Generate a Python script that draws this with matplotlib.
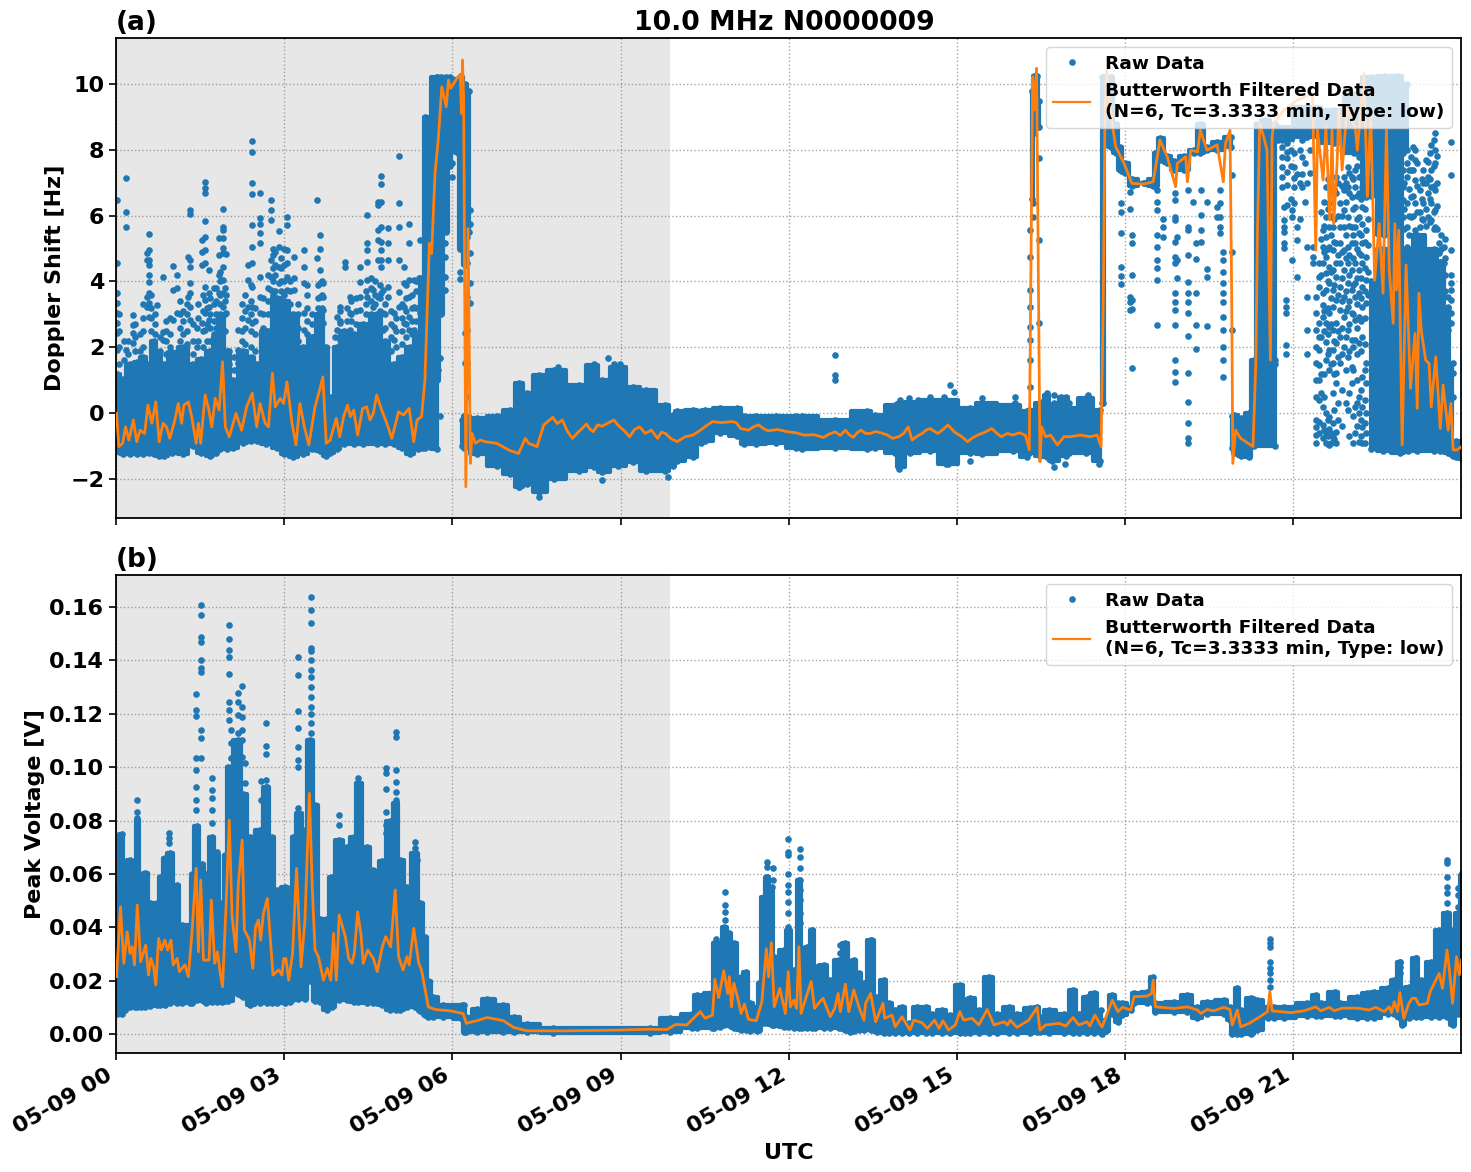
from datetime import datetime

import numpy as np
import matplotlib
matplotlib.use('Agg')
import matplotlib.pyplot as plt
import matplotlib.dates as mdates


start_day = datetime(2024, 5, 9)
blue = '#1f77b4'
orange = '#ff7f0e'
night_end = 9.886  # hours UTC

# Doppler shift: dense part of the raw cloud, low and high edge per station (Hz)
band_hours_a = [0.01, 0.12, 0.25, 0.38, 0.49, 0.58, 0.67, 0.76, 0.85, 1.0, 1.2, 1.38, 1.52, 1.68, 1.78, 1.86,
                1.98, 2.09, 2.27, 2.4, 2.51, 2.68, 2.87, 3.0, 3.16, 3.34, 3.5, 3.64, 3.74, 3.82, 3.94, 4.06,
                4.25, 4.41, 4.65, 4.8, 4.95, 5.1, 5.25, 5.38, 5.45, 5.52, 5.72, 5.74, 6.17, 6.2, 6.44, 6.79,
                7.03, 7.19, 7.33, 7.54, 7.82, 8.25, 8.53, 8.67, 8.95, 9.23, 9.45, 9.8, 9.94, 10.01, 10.29,
                10.43, 10.5, 10.78, 11.07, 11.21, 11.42, 11.77, 12.12, 12.23, 12.83, 13.39, 13.53, 13.89,
                13.96, 14.17, 14.52, 14.8, 15.23, 15.44, 16.0, 16.25, 16.29, 16.48, 16.51, 16.6, 16.7, 16.95,
                17.0, 17.3, 17.55, 17.6, 19.91, 19.95, 20.06, 20.2, 20.3, 20.68, 20.7, 22.36, 22.38, 22.6,
                22.9, 23.05, 23.2, 23.5, 23.62, 23.75, 23.81, 23.85, 23.9, 24.0]
band_low_a = [-1.15, -1.25, -1.25, -1.25, -1.25, -1.2, -1.25, -1.3, -1.3, -1.2, -1.25, -1.0, -1.2, -1.3, -1.2, -1.1,
              -1.1, -1.05, -0.9, -0.85, -0.85, -0.95, -1.05, -1.25, -1.35, -1.25, -1.1, -1.15, -1.3, -1.2, -1.1, -0.95,
              -0.95, -0.95, -0.95, -0.95, -0.95, -1.05, -1.25, -1.1, -1.05, -1.05, -1.1, np.nan, -1.0, -1.05, -1.25, -1.6,
              -1.85, -2.25, -2.15, -2.4, -2.0, -1.75, -1.65, -1.8, -1.6, -1.5, -1.75, -1.75, -1.6, -1.45, -1.35,
              -0.9, -0.85, -0.6, -0.7, -0.95, -0.95, -0.9, -1.05, -1.1, -1.05, -1.1, -1.05, -1.2,
              -1.65, -1.2, -1.15, -1.55, -1.2, -1.25, -1.15, -1.35, -1.2, -1.3, -1.2, -1.35, -1.45, -1.3,
              -1.2, -1.2, -1.45, np.nan, -1.05, -1.2, -1.3, -1.35, -1.0, -1.0, np.nan, np.nan, -1.1, -1.15,
              -1.2, -1.15, -1.15, -1.15, -1.15, -1.2, -1.25, -1.3, -1.35, -1.4]
band_high_a = [1.2, 1.05, 1.5, 1.55, 1.7, 1.5, 2.2, 1.75, 1.5, 1.85, 2.0, 1.5, 1.65, 1.9, 2.3, 3.0,
               1.9, 1.0, 1.9, 1.7, 1.5, 2.5, 3.5, 3.4, 3.0, 2.0, 2.3, 3.0, 2.0, 0.5, 2.0, 2.5,
               2.4, 2.7, 3.0, 2.2, 1.5, 1.7, 2.0, 2.4, 4.0, 9.0, 10.2, np.nan, -0.2, -0.1, -0.15, -0.1,
               0.1, 0.9, 0.6, 1.15, 1.3, 0.85, 1.45, 1.0, 1.4, 0.8, 0.7, 0.25, -0.05, 0.05, 0.1,
               0.05, 0.1, 0.15, 0.15, -0.1, -0.1, -0.1, -0.1, -0.1, -0.2, 0.05, -0.05, 0.25,
               0.3, 0.35, 0.4, 0.4, 0.15, 0.3, 0.25, 0.05, 0.1, 0.3, 0.35, 0.55, 0.25, 0.5,
               0.15, 0.45, 0.1, np.nan, -0.1, -0.05, -0.15, 0.0, 1.6, 1.5, np.nan, np.nan, 4.0, 5.0,
               5.0, 5.0, 5.4, 5.0, 4.6, 3.2, 1.5, -0.9, -0.85, -0.85]

# Doppler shift: raw cloud while the signal sits near 8-10 Hz
upper_hours_a = [5.72, 5.8, 5.88, 5.95, 6.0, 6.1, 6.15, 6.22, 6.3, 6.32, 16.33, 16.37, 16.42, 16.46, 16.47, 17.58,
                 17.61, 17.64, 17.75, 17.83, 17.9, 18.0, 18.13, 18.33, 18.5, 18.54, 18.62, 18.75, 18.87, 19.05,
                 19.22, 19.34, 19.46, 19.64, 19.88, 19.89, 20.33, 20.5, 20.68, 20.69, 20.72, 21.25, 21.72, 22.08,
                 22.38, 22.62, 22.85, 23.03, 23.04]
upper_low_a = [1.0, 3.0, 5.5, 7.5, 8.3, 7.9, 5.0, 4.5, 5.5, np.nan, 6.5, 8.5, 8.7, 8.7, np.nan, 0.3,
               0.3, 8.3, 8.1, 7.9, 7.4, 7.3, 6.9, 7.0, 6.9, 6.9, 7.7, 7.6, 7.4, 7.4,
               7.9, 7.9, 8.0, 8.0, 8.1, np.nan, 1.6, 1.6, 1.6, np.nan, 8.3, 8.4, 8.2, 7.9,
               6.6, 5.4, 4.9, 8.0, np.nan]
upper_high_a = [10.2, 10.2, 10.2, 10.2, 10.15, 10.15, 10.2, 10.0, 9.8, np.nan, 9.8, 10.25, 10.25, 9.5, np.nan, 10.2,
                10.2, 10.2, 10.2, 8.8, 8.1, 7.6, 7.1, 7.0, 7.1, 7.9, 8.35, 7.8, 7.65, 7.8,
                8.0, 8.8, 8.1, 8.25, 8.4, np.nan, 8.8, 8.9, 8.8, np.nan, 8.7, 9.3, 9.2, 9.7,
                10.2, 10.25, 10.25, 10.0, np.nan]

# Doppler shift: scattered raw points above and between the dense parts
spot_hours_a = [0.01, 0.18, 0.3, 0.55, 0.59, 0.73, 0.84, 1.02, 1.08, 1.29, 1.32, 1.53, 1.59, 1.65, 1.83, 1.9, 1.97,
                2.18, 2.36, 2.43, 2.56, 2.77, 2.9, 3.05, 3.17, 3.36, 3.58, 3.64, 3.7, 3.94, 4.0, 4.09, 4.18, 4.35,
                4.47, 4.59, 4.68, 4.72, 4.77, 4.86, 4.95, 5.04, 5.13, 5.22, 5.31, 5.43, 5.75, 5.78, 5.87, 5.99,
                6.14, 6.22, 6.26, 6.31, 12.83]
spot_values_a = [[6.49, 4.55, 3.64, 3.34, 3.03, 2.73, 2.42, 1.91], [7.13, 6.12, 5.66, 1.91], [2.98, 2.67, 2.42, 2.12],
                 [4.85, 4.65, 3.54, 3.23], [5.44, 4.95, 4.65, 4.5, 4.19, 3.99, 3.64, 3.33, 2.93], [3.28],
                 [4.14, 2.47, 2.22], [4.47, 3.74, 2.83], [4.19, 3.79, 3.03], [4.75, 3.54],
                 [6.17, 6.05, 4.65, 4.45, 3.94, 3.64, 3.23, 2.83], [5.26, 4.9, 4.5, 2.73],
                 [7.01, 6.85, 6.68, 5.84, 5.36, 4.95, 4.55, 3.84, 3.43, 3.03, 2.52], [4.35, 3.64, 3.23, 2.83],
                 [5.31, 4.8, 4.19, 3.64], [6.19, 5.66, 5.56, 5.31, 5.01, 4.85, 4.45, 4.04, 3.64, 3.23], [4.82, 3.59, 3.03],
                 [2.52, 1.91, 1.51], [4.5, 4.04, 3.23, 2.83], [8.27, 7.94, 6.98, 6.65, 5.71, 5.06, 4.55, 3.84, 3.23, 2.73],
                 [6.68, 5.92, 5.76, 5.46, 5.16, 4.14, 3.54, 3.03], [6.49, 6.17, 5.87, 4.65, 4.14, 3.74],
                 [5.53, 5.06, 4.45, 3.94], [5.95, 5.71, 4.95, 4.55, 4.14, 3.74], [4.75, 4.09, 3.74],
                 [4.95, 4.45, 3.94, 3.03, 2.52], [6.49, 4.72], [5.41, 5.0, 4.35, 3.94, 3.54, 3.13], [3.94, 3.54, 3.13, 2.73],
                 [2.93, 2.52, 1.91], [3.23, 2.73, 2.22], [4.6, 4.45], [3.54, 3.03, 2.52, 2.02], [4.45, 3.99, 3.54, 3.13],
                 [6.02, 5.16, 4.95, 4.6, 4.04, 3.54], [3.74, 3.23, 2.73], [6.42, 6.32, 5.56, 5.26, 4.65, 3.54],
                 [7.21, 6.95, 6.42, 5.66, 5.21, 4.95, 4.65, 4.45, 3.64], [3.74, 3.03, 2.52], [5.61, 5.16, 4.65, 3.84, 3.54],
                 [3.03, 2.62, 2.22], [7.8, 6.37, 5.64, 4.65, 3.69, 3.23], [4.45, 3.94, 3.23, 2.73],
                 [5.74, 5.16, 4.04, 3.54, 2.93, 2.52], [4.04, 3.23, 2.52], [5.26, 4.09, 3.94, 3.03, 2.12], [1.31], [1.66, -0.09],
                 [6.17, 5.56, 5.16, 4.75, 4.14, 3.74], [7.59, 7.18], [6.68, 5.0, 4.3, 4.06], [2.42, 1.51],
                 [5.36, 4.55, 3.54, 2.52, 1.51, 0.5], [6.17, 5.76, 4.85, 3.94, 3.33], [1.76, 1.15, 1.0]]

# Doppler shift: thicker part of the morning cloud between 1 and 5 Hz
cloud_hours_a = [0.06, 0.14, 0.22, 0.34, 0.42, 0.48, 0.63, 0.69, 0.79, 0.9, 0.96, 1.14, 1.2, 1.26, 1.38, 1.44, 1.47, 1.56,
                 1.62, 1.68, 1.74, 1.79, 1.86, 1.94, 2.02, 2.1, 2.25, 2.3, 2.4, 2.48, 2.62, 2.72, 2.8, 2.84, 2.95, 3.0,
                 3.1, 3.25, 3.4, 3.5, 3.6, 3.68, 3.9, 4.0, 4.12, 4.2, 4.28, 4.46, 4.55, 4.62, 4.7, 4.8, 4.9, 5.0, 5.1,
                 5.18, 5.28, 5.35, 5.4]
cloud_values_a = [[1.5, 2.0, 2.5, 3.0], [1.6, 2.2], [1.8, 2.2], [1.9, 2.3, 2.7], [1.9, 2.4], [2.0, 2.5, 2.9, 3.3],
                  [2.5, 2.9, 3.2, 3.6], [2.4, 2.7, 3.0], [1.9, 2.3], [1.8, 2.2, 2.5, 2.8], [2.0, 2.4, 2.9],
                  [2.2, 2.6, 3.0, 3.4], [2.4, 2.8, 3.1], [2.1, 2.5, 3.0, 3.3], [1.8, 2.2, 2.7], [2.0, 2.6], [2.2, 2.9, 3.3],
                  [2.0, 2.5, 3.1, 3.6], [2.2, 2.7, 3.2], [2.2, 2.6, 3.0, 3.5], [2.4, 2.8, 3.3, 3.8], [2.6, 3.0, 3.4, 3.8],
                  [3.3, 3.6, 4.0, 4.3], [2.5, 3.0, 3.4, 3.8], [1.5, 1.9], [1.3, 1.7], [2.2, 2.5, 2.9, 3.3],
                  [2.1, 2.6, 3.1, 3.6], [2.0, 2.5, 3.0, 3.4, 3.9], [1.9, 2.4, 2.8, 3.2], [2.0, 2.6, 3.0, 3.5],
                  [2.5, 3.0, 3.4, 3.8, 4.2], [3.6, 4.0, 4.4, 4.8, 5.0], [3.7, 4.2, 4.5, 4.9], [3.7, 4.0, 4.4, 4.7],
                  [3.6, 4.0, 4.5, 5.0], [3.3, 3.7, 4.0], [2.2, 2.6, 3.0, 3.3], [2.4, 2.8, 3.2, 3.6, 3.9], [2.3, 2.7, 3.0],
                  [3.2, 3.5, 3.9], [3.2, 3.6, 4.0], [1.0, 1.4, 1.9, 2.3], [2.8, 3.1], [2.8, 3.2], [2.8, 3.0, 3.4],
                  [2.7, 3.1, 3.5], [3.0, 3.3, 3.7], [3.0, 3.4, 3.8, 4.1], [3.3, 3.6, 4.0], [3.1, 3.5, 3.9], [2.6, 3.0, 3.3],
                  [1.9, 2.3, 2.7, 3.1], [2.0, 2.5, 2.9], [2.1, 2.5, 2.9, 3.3], [2.3, 2.7, 3.1, 3.5, 3.9],
                  [2.4, 2.8, 3.2, 3.6], [2.8, 3.2, 3.7, 4.0], [3.2, 3.7, 4.1]]

# Doppler shift: single points standing off the quiet band
edge_hours_a = [7.19, 7.54, 7.89, 8.53, 8.67, 8.77, 8.88, 8.99, 9.85, 13.96, 13.99, 14.14, 14.31, 14.52, 14.77, 14.84, 14.87,
                14.95, 15.23, 15.44, 16.04, 16.61, 16.73, 16.85, 16.93, 17.0, 17.33, 17.53]
edge_values_a = [[-2.24], [-2.54], [1.4], [1.5], [-2.04], [1.66], [1.5], [1.5], [-1.94], [-1.7, -1.5], [0.4, 0.1], [0.45, 0.2],
                 [0.4, 0.2], [0.5, 0.3], [0.5, 0.3], [-1.55], [0.85], [0.65], [-1.45], [0.45], [0.5, 0.3], [0.6, 0.3],
                 [0.55, 0.3, -1.65], [0.5], [-1.55], [0.3], [0.55, 0.3], [-1.55]]

late_hours_a = [16.31, 16.35, 16.46, 17.93, 18.08, 18.13, 18.56, 18.67, 18.88, 18.93, 19.12, 19.21, 19.27, 19.36, 19.46,
                19.63, 19.7, 19.75, 19.91, 20.8, 20.83, 20.86, 20.89, 20.95, 20.98, 21.01, 21.07, 21.12, 21.16, 21.2,
                21.25, 21.3, 21.35, 21.4, 21.46, 21.52, 21.58, 21.64, 21.7, 21.76, 21.83, 21.9, 21.97, 22.04, 22.1, 22.17,
                22.23, 22.3, 22.95, 23.02, 23.1, 23.17, 23.25, 23.32, 23.4, 23.46, 23.53, 23.6, 23.68, 23.75, 23.81, 23.85]
late_values_a = [[5.56, 4.75, 3.74, 3.23, 2.62, 2.22, 1.61, 0.8], [6.37, 5.97], [7.74, 5.26, 2.73],
                 [6.37, 6.12, 5.46, 4.43, 4.16, 3.92], [6.73, 6.19, 3.54, 3.38, 3.13], [5.41, 5.16, 4.19, 3.43, 3.15, 1.38],
                 [6.78, 6.42, 6.17, 5.41, 5.04, 4.65, 4.4, 4.04, 2.69], [5.89, 5.65, 5.36],
                 [6.68, 6.47, 5.97, 5.87, 5.21, 4.75, 4.55, 3.64, 3.38, 3.13, 2.67, 1.61, 1.26, 0.95], [5.36, 4.65, 4.09],
                 [6.78, 5.66, 5.56, 4.8, 3.99, 3.64, 3.38, 3.03, 2.34, 1.21, 0.34, -0.29, -0.77, -0.92], [6.42],
                 [5.16, 4.67, 3.64, 2.67, 1.94], [6.78, 6.02, 5.56, 5.21], [6.42, 4.37, 4.14, 2.64], [6.27, 5.97],
                 [6.78, 6.37, 5.97, 5.66, 5.46], [4.9, 4.65, 4.3, 3.94, 3.64, 3.38, 2.93, 2.52, 2.02, 1.61, 1.1],
                 [7.23, 4.9, 2.52], [8.3, 8.1, 7.79, 7.49, 7.18, 6.88], [6.27, 5.87, 5.66, 5.51, 5.16, 5.01],
                 [3.43, 3.23, 3.03, 2.07, 1.81], [8.6, 8.2, 7.94, 7.74, 7.34, 6.93, 6.32], [8.0, 7.5, 6.5], [6.17, 5.97, 4.65],
                 [7.89, 7.49, 7.13, 6.88, 6.37], [7.28, 5.66, 5.26, 4.14], [8.0, 7.0, 5.9], [8.3, 7.79, 7.28, 6.88],
                 [8.4, 7.6, 6.4], [6.98, 5.06, 3.54, 2.52, 1.81], [8.6, 8.0, 7.3], [5.06, 4.75, 4.55],
                 [3.54, 3.03, 2.52, 2.02, 1.51, 1.0, 0.5, -0.21, -0.42, -0.67, -0.92],
                 [4.55, 4.14, 3.84, 2.73, 2.32, 1.91, 1.46, 1.0, 0.4, -0.26, -0.62],
                 [5.56, 5.06, 4.55, 3.64, 3.28, 2.93, 0.19, -0.36, -0.77],
                 [6.88, 5.97, 5.36, 4.75, 4.25, 3.74, 2.73, 2.17, 1.61, -0.01, -0.62, -0.92],
                 [6.37, 5.66, 5.06, 4.45, 3.94, 3.03, 2.62, 1.91, 1.31, -0.11, -0.47, -0.97],
                 [5.66, 4.95, 4.35, 3.74, 3.23, 2.52, 1.91, 1.51, 0.6, -0.31, -0.72],
                 [7.18, 6.68, 5.16, 4.55, 4.14, 3.43, 2.73, 2.12, 1.21, 0.9, -0.57, -0.92],
                 [6.37, 5.66, 5.16, 4.55, 3.84, 3.13, 2.32, 1.51],
                 [7.18, 6.78, 6.17, 5.66, 4.95, 4.35, 3.54, 2.93, 2.02],
                 [7.49, 6.88, 5.97, 5.06, 4.55, 3.94, 3.23, 2.52, 1.71, 0.09],
                 [7.18, 6.58, 5.66, 5.16, 4.35, 3.74, 3.03, 2.22, 1.41, 0.9],
                 [7.39, 6.88, 6.27, 5.66, 5.16, 4.55, 3.94, 3.54, 2.83, 2.22, 0.19, -0.62],
                 [7.79, 7.18, 6.68, 5.97, 5.46, 4.85, 4.35, 3.64, 2.93, 2.12, 0.5, -0.01, -0.87],
                 [6.88, 6.27, 5.76, 5.16, 4.55, 3.84, 3.23, 2.32, 1.1, 0.19, -0.42, -0.92],
                 [7.39, 6.58, 5.56, 4.75, 4.04, 3.33, 1.51, 0.9, -0.01, -0.62],
                 [8.6, 8.2, 7.89, 7.39, 6.88, 6.47, 5.97], [7.59, 7.18, 6.37, 5.66, 5.06, 4.35], [7.79, 7.39, 6.58, 5.97],
                 [7.99, 7.69, 7.08, 6.37, 5.56], [6.78, 6.12, 5.66, 5.06], [7.39, 6.98, 6.37, 5.87], [7.64, 7.18, 6.68, 5.97],
                 [8.15, 7.39, 6.88, 6.37, 5.87], [8.5, 7.99, 7.59, 6.78, 6.17, 5.66], [5.16, 4.85], [5.06, 4.55, 3.54],
                 [3.54, 3.23, 2.52], [8.25, 7.25, 4.95, 4.19, 3.94, 3.74, 3.43, 3.03, 2.73], [1.51, 1.21, 0.5]]

# Doppler shift: points filling the afternoon scatter between the columns above
fill_hours_a = [21.49, 21.55, 21.61, 21.67, 21.73, 21.79, 21.86, 21.93, 22.0, 22.07, 22.14, 22.2, 22.27, 22.34,
                22.98, 23.06, 23.14, 23.21, 23.29, 23.36, 23.43, 23.5, 23.57, 23.64, 23.71]
fill_values_a = [[6.1, 5.3, 4.2, 2.3, 1.2, 0.6], [6.4, 5.7, 4.9, 3.1, 2.5, 1.2, 0.5, -0.5],
                 [7.1, 6.2, 5.0, 4.0, 3.2, 2.4, 1.8, -0.2, -0.7], [6.0, 5.4, 4.3, 3.5, 2.7, 1.5, -0.6, -0.9],
                 [6.8, 5.9, 5.2, 3.9, 2.2, 1.2, 0.1, -0.8], [7.0, 6.0, 4.8, 3.6, 2.5, 1.7, 0.3, -0.2],
                 [6.9, 6.0, 4.9, 4.1, 3.4, 2.6, 1.8, 0.7, -0.4], [7.0, 6.4, 5.4, 4.7, 3.7, 3.1, 2.3, 1.3, 0.3],
                 [7.3, 6.7, 5.7, 4.8, 4.2, 3.4, 2.7, 1.9, 0.6, -0.7], [7.1, 6.2, 5.4, 4.7, 3.9, 3.0, 2.0, 1.3, -0.1, -0.9],
                 [7.5, 6.6, 5.9, 5.0, 4.1, 3.3, 2.6, 1.8, 1.0, 0.3, -0.4], [7.2, 6.5, 5.4, 4.8, 4.1, 3.5, 2.8, 1.9, 0.7, -0.2, -0.7],
                 [7.0, 6.2, 5.2, 4.4, 3.7, 2.9, 2.1, 1.3, 0.4, -0.3, -0.9], [6.8, 5.9, 5.1, 4.3, 3.6],
                 [8.0, 7.0, 6.2, 5.6], [7.4, 6.8, 6.0, 5.4], [8.1, 7.4, 6.6, 6.0], [7.6, 6.9, 6.1], [7.1, 6.5, 5.9],
                 [7.7, 7.0, 6.2, 5.7], [7.9, 7.1, 6.5, 5.8], [8.3, 7.5, 6.9, 6.1, 5.6], [7.8, 7.0, 6.3, 5.6],
                 [5.4, 5.0, 4.6], [5.3, 4.7, 4.2, 3.7]]

# Doppler shift: low-pass filtered curve, in three stretches
filt_early_hours_a = [0.01, 0.05, 0.12, 0.17, 0.23, 0.31, 0.37, 0.43, 0.51, 0.57, 0.64, 0.71, 0.77, 0.84, 0.9, 0.96, 1.05, 1.11, 1.17,
                      1.21, 1.29, 1.35, 1.43, 1.47, 1.51, 1.59, 1.65, 1.71, 1.77, 1.84, 1.9, 1.95, 2.02, 2.14, 2.24, 2.33, 2.43,
                      2.51, 2.57, 2.66, 2.72, 2.79, 2.84, 2.93, 2.99, 3.05, 3.14, 3.21, 3.28, 3.36, 3.44, 3.55, 3.64, 3.69, 3.75,
                      3.82, 3.93, 3.99, 4.06, 4.13, 4.18, 4.24, 4.31, 4.4, 4.47, 4.53, 4.59, 4.65, 4.74, 4.83, 4.92, 5.04, 5.13,
                      5.23, 5.31, 5.37, 5.45, 5.51, 5.59, 5.63, 5.69, 5.75, 5.81, 5.89, 5.93, 5.97, 6.08, 6.14, 6.16, 6.18, 6.2,
                      6.24, 6.28, 6.32, 6.35, 6.41, 6.5, 6.58, 6.79, 7.0, 7.18, 7.3, 7.36, 7.51, 7.63]
filt_early_values_a = [-0.01, -1.02, -0.92, -0.42, -0.82, -0.21, -0.87, -0.52, -0.62, 0.24, -0.31, 0.34, -0.87, -0.31, -0.42, -0.77,
                       -0.21, 0.29, -0.31, 0.24, 0.34, -0.11, -0.92, -0.31, -0.92, 0.55, 0.14, -0.42, 0.45, 0.09, 1.56, -0.42,
                       -0.72, -0.01, -0.52, 0.19, 0.6, -0.42, 0.29, -0.31, -0.42, 1.21, 0.19, 0.45, 0.29, 0.95, -0.31, -0.97,
                       0.29, -0.42, -0.97, 0.19, 0.75, 1.1, -0.92, -0.82, -0.16, -0.72, -0.11, 0.24, -0.11, 0.09, -0.67, 0.14,
                       0.19, -0.21, -0.01, 0.55, 0.09, -0.31, -0.77, 0.04, -0.06, 0.14, -0.87, -0.21, -0.11, 1.0, 5.16, 4.85,
                       7.28, 8.35, 9.92, 9.31, 10.12, 9.87, 10.17, 10.3, 9.11, 10.73, 9.6, -2.24, 5.61, -1.53, -0.62, -0.92,
                       -0.82, -0.87, -0.92, -1.12, -1.23, -0.77, -0.92, -1.02, -0.36]
filt_mid_hours_a = [7.79, 7.87, 7.96, 8.05, 8.14, 8.25, 8.32, 8.39, 8.45, 8.51,
                    8.59, 8.67, 8.78, 8.88, 8.95, 9.02, 9.09, 9.16, 9.25, 9.34,
                    9.44, 9.55, 9.66, 9.73, 9.8, 9.9, 10.01, 10.15, 10.29, 10.4,
                    10.5, 10.64, 10.8, 11.0, 11.07, 11.14, 11.28, 11.37, 11.46, 11.55,
                    11.63, 11.8, 11.98, 12.13, 12.27, 12.45, 12.62, 12.72, 12.83, 12.92,
                    13.01, 13.08, 13.15, 13.22, 13.29, 13.37, 13.46, 13.55, 13.64, 13.75,
                    13.85, 13.96, 14.05, 14.13, 14.2, 14.29, 14.38, 14.45, 14.52, 14.59,
                    14.66, 14.75, 14.84, 14.95, 15.07, 15.19, 15.28, 15.37, 15.5, 15.62,
                    15.7, 15.79, 15.9, 16.0, 16.11, 16.22, 16.29]
filt_mid_values_a = [-0.13, -0.32, -0.21, -0.55, -0.77, -0.57, -0.46, -0.33, -0.48, -0.57,
                     -0.36, -0.4, -0.3, -0.21, -0.36, -0.47, -0.58, -0.72, -0.5, -0.42,
                     -0.62, -0.52, -0.77, -0.58, -0.62, -0.78, -0.87, -0.72, -0.67, -0.55,
                     -0.42, -0.26, -0.29, -0.26, -0.3, -0.47, -0.52, -0.42, -0.36, -0.47,
                     -0.54, -0.5, -0.57, -0.6, -0.67, -0.66, -0.74, -0.64, -0.57, -0.68,
                     -0.52, -0.66, -0.74, -0.6, -0.52, -0.62, -0.62, -0.56, -0.6, -0.66,
                     -0.77, -0.72, -0.62, -0.42, -0.82, -0.7, -0.62, -0.52, -0.47, -0.55,
                     -0.62, -0.5, -0.36, -0.57, -0.7, -0.87, -0.75, -0.67, -0.58, -0.47,
                     -0.6, -0.72, -0.62, -0.67, -0.6, -0.67, -1.12]
filt_late_hours_a = [16.35, 16.38, 16.42, 16.45, 16.48, 16.51, 16.58, 16.67, 16.79, 16.91, 17.02, 17.2, 17.38, 17.5, 17.57, 17.61,
                     17.64, 17.67, 17.71, 17.77, 17.83, 17.98, 18.12, 18.33, 18.5, 18.62, 18.75, 18.9, 18.93, 19.08, 19.11, 19.17,
                     19.29, 19.34, 19.46, 19.64, 19.75, 19.79, 19.87, 19.9, 19.92, 19.97, 20.06, 20.28, 20.33, 20.36, 20.4, 20.47,
                     20.53, 20.57, 20.59, 20.62, 20.65, 20.83, 21.07, 21.34, 21.4, 21.43, 21.53, 21.58, 21.65, 21.69, 21.72,
                     21.78, 21.81, 21.87, 21.96, 22.11, 22.14, 22.26, 22.32, 22.38, 22.45, 22.53, 22.6, 22.66, 22.71, 22.78,
                     22.81, 22.84, 22.88, 22.94, 23.01, 23.09, 23.17, 23.21, 23.24, 23.28, 23.36, 23.42, 23.46, 23.54, 23.62,
                     23.67, 23.76, 23.81, 23.85, 23.92, 24.0]
filt_late_values_a = [10.22, 9.21, 10.48, 4.55, -1.48, -0.42, -0.72, -0.67, -0.97, -0.72, -0.72, -0.67, -0.72, -0.67, -1.02, 3.54,
                      9.11, 10.43, 9.61, 8.8, 8.1, 7.59, 6.98, 6.96, 7.03, 8.3, 7.79, 6.88, 7.59, 7.79, 7.03, 7.99,
                      7.94, 8.6, 7.99, 8.15, 7.03, 8.2, 8.6, 3.54, -1.53, -0.52, -0.77, -1.02, 1.51, 5.56, 8.8, 8.4,
                      7.99, 3.74, 1.61, 8.4, 8.8, 9.21, 9.51, 9.72, 4.95, 8.6, 7.08, 8.7, 5.87, 8.6, 5.76,
                      7.59, 9.21, 7.39, 9.31, 8.6, 7.99, 10.32, 6.58, 9.11, 4.04, 5.76, 3.64, 8.6, 4.35, 2.73,
                      5.76, 3.74, 5.56, -0.97, 4.5, 0.75, 2.42, 0.14, 3.64, 2.52, 1.61, 1.51, 0.19, 1.71, -0.47,
                      0.85, -0.52, 0.29, -1.12, -1.12, -1.02]

# Peak voltage: dense part of the raw cloud (V)
band_hours_b = [0.01, 0.1, 0.16, 0.25, 0.33, 0.38, 0.44, 0.52, 0.61, 0.73, 0.79, 0.87, 0.96, 1.08, 1.17, 1.32, 1.35, 1.44, 1.53,
                1.6, 1.71, 1.8, 1.89, 1.95, 2.0, 2.18, 2.27, 2.39, 2.57, 2.69, 2.78, 2.87, 3.02, 3.11, 3.16, 3.25, 3.37,
                3.46, 3.55, 3.64, 3.76, 3.85, 3.97, 4.12, 4.24, 4.32, 4.47, 4.59, 4.65, 4.74, 4.89, 5.0, 5.07, 5.19, 5.34,
                5.43, 5.51, 5.57, 5.66, 5.84, 6.17, 6.2, 6.25, 6.44, 6.62, 6.9, 7.09, 7.33, 7.8, 9.53, 9.89, 10.27, 10.36,
                10.63, 10.66, 10.78, 10.85, 10.93, 11.02, 11.14, 11.23, 11.31, 11.43, 11.46, 11.55, 11.61, 11.7, 11.74,
                11.91, 11.99, 12.09, 12.19, 12.24, 12.33, 12.42, 12.47, 12.62, 12.74, 12.89, 13.01, 13.1, 13.16, 13.25,
                13.34, 13.46, 13.58, 13.69, 13.78, 13.9, 14.02, 14.14, 14.29, 14.44, 14.56, 14.74, 14.88, 15.06, 15.15,
                15.24, 15.39, 15.57, 15.72, 15.92, 16.07, 16.31, 16.43, 16.48, 16.64, 16.91, 17.07, 17.17, 17.32, 17.44,
                17.56, 17.59, 17.65, 17.77, 17.87, 17.95, 18.1, 18.16, 18.39, 18.5, 18.54, 18.87, 19.11, 19.29, 19.46,
                19.76, 19.87, 19.91, 20.0, 20.06, 20.24, 20.36, 20.54, 20.65, 20.83, 21.25, 21.4, 21.49, 21.75, 21.84,
                22.14, 22.32, 22.44, 22.68, 22.8, 22.9, 22.94, 23.06, 23.18, 23.27, 23.45, 23.6, 23.74, 23.84, 23.93, 24.0]
band_low_b = [0.0077, 0.0077, 0.009, 0.0102, 0.0102, 0.0102, 0.0102, 0.0102, 0.0105, 0.011, 0.011, 0.011, 0.0115, 0.0115, 0.0115,
              0.0115, 0.0115, 0.0127, 0.0127, 0.0115, 0.012, 0.012, 0.012, 0.0122, 0.0122, 0.015, 0.014, 0.0108, 0.0115,
              0.0115, 0.0115, 0.0115, 0.0115, 0.012, 0.0132, 0.013, 0.0132, 0.02, 0.0125, 0.012, 0.009, 0.01, 0.0127,
              0.0127, 0.012, 0.012, 0.0115, 0.0115, 0.0115, 0.011, 0.009, 0.009, 0.009, 0.0102, 0.0102, 0.0085, 0.0072,
              0.0065, 0.0065, 0.0065, 0.0058, 0.0009, 0.0009, 0.0009, 0.0009, 0.0009, 0.0008, 0.0006, 0.0003, 0.0003,
              0.0009, 0.0021, 0.0021, 0.0021, 0.0021, 0.0027, 0.0034, 0.0034, 0.0021, 0.0015, 0.0015, 0.0012, 0.0012,
              0.0015, 0.004, 0.004, 0.0034, 0.0034, 0.0025, 0.0025, 0.0021, 0.0021, 0.0021, 0.0021, 0.0021, 0.0021, 0.0021,
              0.0021, 0.0021, 0.0015, 0.0009, 0.0012, 0.0015, 0.0015, 0.0015, 0.0009, 0.0003, 0.0003, 0.0003, 0.0003,
              0.0003, 0.0003, 0.0003, 0.0003, 0.0003, 0.0003, 0.0003, 0.0003, 0.0003, 0.0003, 0.0003, 0.0003, 0.0003,
              0.0003, 0.0003, 0.0009, 0.0009, 0.0003, 0.0003, 0.0003, 0.0003, 0.0003, 0.0003, 0.0003, 0.0002, 0.001,
              0.0077, 0.0046, 0.0071, 0.009, 0.0115, 0.0115, 0.0115, 0.0084, 0.0084, 0.0084, 0.0059, 0.0077, 0.0077,
              0.0052, 0.0002, 0.0002, 0.0002, 0.0002, 0.0015, 0.0059, 0.0062, 0.0062, 0.0067, 0.0067, 0.0067, 0.0067,
              0.0067, 0.0062, 0.0062, 0.0059, 0.0077, 0.0077, 0.0062, 0.0034, 0.0059, 0.0065, 0.0065, 0.0065, 0.0065,
              0.0065, 0.0034, 0.0077, 0.0077]
band_high_b = [0.055, 0.075, 0.055, 0.0652, 0.057, 0.0802, 0.056, 0.0602, 0.049, 0.049, 0.059, 0.066, 0.068, 0.056, 0.041, 0.041,
               0.06, 0.078, 0.0637, 0.06, 0.074, 0.067, 0.049, 0.067, 0.1, 0.11, 0.09, 0.0739, 0.0764, 0.0927, 0.0739, 0.0539,
               0.0552, 0.049, 0.0739, 0.0827, 0.0764, 0.11, 0.086, 0.043, 0.043, 0.059, 0.0727, 0.07, 0.0739, 0.0939, 0.07,
               0.0614, 0.049, 0.065, 0.08, 0.0864, 0.0652, 0.0552, 0.0677, 0.049, 0.0365, 0.02, 0.014, 0.0108, 0.0108, 0.0108,
               0.0065, 0.0095, 0.0133, 0.0108, 0.0065, 0.0038, 0.0024, 0.0024, 0.0059, 0.0077, 0.0146, 0.0152, 0.034, 0.034,
               0.04, 0.0377, 0.034, 0.0215, 0.0234, 0.0115, 0.0102, 0.019, 0.0515, 0.059, 0.0552, 0.029, 0.0315, 0.039, 0.024,
               0.0577, 0.024, 0.0327, 0.039, 0.0252, 0.0259, 0.0202, 0.0277, 0.034, 0.024, 0.0277, 0.0227, 0.019, 0.0352,
               0.014, 0.0202, 0.0115, 0.009, 0.0102, 0.004, 0.0102, 0.0102, 0.0077, 0.009, 0.0071, 0.0184, 0.0127, 0.0134,
               0.009, 0.0215, 0.0077, 0.0102, 0.0077, 0.0096, 0.0102, 0.0065, 0.009, 0.0077, 0.0165, 0.0077, 0.014, 0.0152,
               0.009, 0.0034, 0.0052, 0.0146, 0.0115, 0.0115, 0.0102, 0.0152, 0.0159, 0.0215, 0.0115, 0.0121, 0.0146, 0.0102,
               0.0121, 0.0127, 0.0102, 0.0084, 0.0171, 0.009, 0.0134, 0.0127, 0.0102, 0.0102, 0.0102, 0.0115, 0.0146, 0.0115,
               0.0159, 0.0115, 0.014, 0.0152, 0.0159, 0.0171, 0.0202, 0.027, 0.0152, 0.0177, 0.0284, 0.0202, 0.027, 0.039,
               0.0452, 0.039, 0.0452, 0.0595]

# Peak voltage: columns of raw points rising above the dense part
spot_hours_b = [0.38, 0.95, 1.43, 1.52, 1.71, 1.81, 2.02, 2.06, 2.17, 2.25, 2.3, 2.58, 2.67, 3.24, 3.47, 3.97, 4.31, 4.82, 5.0, 5.34,
                5.37, 10.7, 10.86, 11.61, 11.71, 11.98, 12.2, 12.42, 12.91, 13.02, 13.16, 13.46, 17.07, 20.59, 22.9, 23.19,
                23.74, 23.93, 24.0]
spot_values_b = [[0.0877, 0.0833, 0.0808, 0.0777, 0.0752, 0.0727], [0.0752, 0.0733, 0.0714],
                 [0.1273, 0.1214, 0.1191, 0.1033, 0.0989, 0.0927, 0.0877, 0.0839],
                 [0.1607, 0.157, 0.1489, 0.147, 0.1401, 0.137, 0.1358, 0.1139, 0.1108, 0.1033],
                 [0.0958, 0.0914, 0.0883, 0.0839, 0.0789], [0.0683, 0.0652, 0.0596],
                 [0.1532, 0.1479, 0.1439, 0.1411, 0.1349, 0.1245, 0.1214, 0.1176], [0.1139, 0.1089, 0.1033, 0.0989],
                 [0.1276, 0.1245, 0.1195, 0.1127], [0.1304, 0.1226, 0.1189, 0.1139, 0.1101, 0.1039], [0.1014, 0.0939, 0.0889],
                 [0.0949, 0.0877], [0.1164, 0.1079, 0.1049, 0.0952, 0.0927, 0.0877],
                 [0.1411, 0.1344, 0.1211, 0.1145, 0.1077, 0.1027, 0.1002, 0.0846, 0.0814],
                 [0.1636, 0.1589, 0.1539, 0.1445, 0.1435, 0.1401, 0.1364, 0.1339, 0.1301, 0.1264, 0.1226, 0.1201, 0.1164, 0.1127],
                 [0.0821, 0.0783], [0.0958, 0.0927, 0.0889, 0.0864, 0.0833, 0.0783],
                 [0.0995, 0.0977, 0.092, 0.0833, 0.0783, 0.0752], [0.1133, 0.1114, 0.0989, 0.0945, 0.0908, 0.0877, 0.0827, 0.0789],
                 [0.0721, 0.0696], [0.0652], [0.0358], [0.0531, 0.0483, 0.0458, 0.0427],
                 [0.0646, 0.0627, 0.0589, 0.0577, 0.0552], [0.0621, 0.0577],
                 [0.0729, 0.0683, 0.0671, 0.0598, 0.0558, 0.0531, 0.0496, 0.0452, 0.0402],
                 [0.0692, 0.0664, 0.0621, 0.0577, 0.054, 0.0502, 0.0452, 0.0415], [0.039, 0.0365],
                 [0.0333, 0.0302, 0.0271], [0.0336, 0.0308, 0.0277], [0.0271, 0.0246], [0.0352, 0.0333, 0.0302, 0.0271],
                 [0.0159, 0.014, 0.0115], [0.0358, 0.034, 0.0327, 0.0271, 0.0246, 0.0227, 0.0202, 0.0177],
                 [0.0271, 0.0252, 0.0227], [0.0284, 0.0259], [0.0654, 0.0642, 0.0589, 0.0552, 0.0527, 0.049, 0.0446],
                 [0.0546, 0.0521, 0.0477], [0.0602, 0.0577, 0.0552, 0.0515]]

# Peak voltage: low-pass filtered curve
filt_hours_b = [0.01, 0.08, 0.14, 0.2, 0.25, 0.29, 0.33, 0.38, 0.44, 0.53, 0.58, 0.62, 0.67, 0.71, 0.76, 0.81, 0.87, 0.92, 0.98,
                1.02, 1.09, 1.13, 1.23, 1.29, 1.35, 1.43, 1.47, 1.51, 1.56, 1.66, 1.7, 1.76, 1.81, 1.86, 1.9, 1.96, 2.02, 2.07,
                2.14, 2.18, 2.25, 2.29, 2.38, 2.44, 2.49, 2.54, 2.58, 2.63, 2.7, 2.8, 2.9, 2.96, 2.99, 3.03, 3.08, 3.15, 3.22,
                3.3, 3.37, 3.45, 3.5, 3.55, 3.61, 3.7, 3.77, 3.83, 3.88, 3.93, 3.98, 4.09, 4.15, 4.21, 4.25, 4.31, 4.37, 4.41,
                4.49, 4.59, 4.66, 4.75, 4.81, 4.9, 4.98, 5.04, 5.12, 5.19, 5.23, 5.31, 5.4, 5.45, 5.57, 5.69, 5.96, 6.19, 6.25,
                6.35, 6.44, 6.62, 6.91, 7.09, 7.33, 8.0, 9.0, 9.5, 9.83, 9.98, 10.18, 10.42, 10.51, 10.64, 10.68, 10.75, 10.84,
                10.91, 10.94, 10.98, 11.02, 11.09, 11.15, 11.21, 11.28, 11.42, 11.52, 11.6, 11.64, 11.69, 11.74, 11.84, 11.94,
                11.99, 12.03, 12.09, 12.14, 12.18, 12.22, 12.33, 12.4, 12.46, 12.53, 12.61, 12.74, 12.82, 12.88, 12.92, 13.01,
                13.07, 13.16, 13.25, 13.34, 13.37, 13.46, 13.55, 13.68, 13.71, 13.84, 13.9, 14.02, 14.16, 14.23, 14.38, 14.47,
                14.6, 14.68, 14.75, 14.85, 14.97, 15.05, 15.12, 15.27, 15.39, 15.54, 15.66, 15.84, 15.9, 15.95, 16.07, 16.28,
                16.43, 16.48, 16.58, 16.82, 16.94, 17.07, 17.17, 17.32, 17.37, 17.46, 17.56, 17.59, 17.77, 17.87, 17.95, 18.1,
                18.16, 18.39, 18.47, 18.5, 18.54, 18.87, 19.11, 19.29, 19.35, 19.46, 19.58, 19.76, 19.87, 19.91, 20.0, 20.06,
                20.21, 20.36, 20.54, 20.58, 20.62, 20.95, 21.19, 21.4, 21.49, 21.64, 21.73, 21.87, 22.14, 22.35, 22.47, 22.62,
                22.71, 22.75, 22.8, 22.86, 22.9, 22.97, 23.06, 23.12, 23.18, 23.24, 23.39, 23.44, 23.6, 23.66, 23.74, 23.78,
                23.84, 23.91, 23.96, 24.0]
filt_values_b = [0.0215, 0.0477, 0.0265, 0.0383, 0.0302, 0.0327, 0.0259, 0.0483, 0.0271, 0.0333, 0.0221, 0.0283, 0.0252, 0.0184, 0.0358,
                 0.0315, 0.0352, 0.0315, 0.0352, 0.0259, 0.0283, 0.0234, 0.0259, 0.0215, 0.0365, 0.0621, 0.0308, 0.0577, 0.0277,
                 0.0277, 0.0502, 0.0265, 0.0308, 0.0227, 0.0177, 0.0465, 0.0802, 0.044, 0.0308, 0.0558, 0.0727, 0.039, 0.0352,
                 0.0246, 0.0402, 0.0427, 0.0352, 0.0452, 0.0508, 0.0221, 0.024, 0.0221, 0.0283, 0.0283, 0.0202, 0.0302, 0.0621,
                 0.0252, 0.0427, 0.0902, 0.0552, 0.0315, 0.029, 0.0202, 0.0246, 0.0202, 0.0377, 0.0202, 0.0446, 0.0365, 0.0283,
                 0.0265, 0.0302, 0.0458, 0.0371, 0.0265, 0.0315, 0.0283, 0.0234, 0.0327, 0.0365, 0.0327, 0.054, 0.029, 0.024,
                 0.029, 0.0259, 0.0396, 0.0265, 0.024, 0.0102, 0.0092, 0.0087, 0.0077, 0.004, 0.0046, 0.005, 0.0062, 0.005,
                 0.0025, 0.0012, 0.0012, 0.0015, 0.0018, 0.0017, 0.0036, 0.0034, 0.0084, 0.0059, 0.0071, 0.0205, 0.0137, 0.0237,
                 0.0152, 0.0215, 0.0102, 0.019, 0.0134, 0.0077, 0.0112, 0.0055, 0.005, 0.0121, 0.032, 0.0215, 0.0342, 0.0102,
                 0.0171, 0.0077, 0.0234, 0.0102, 0.0127, 0.0096, 0.0327, 0.0077, 0.0152, 0.0197, 0.0096, 0.0115, 0.0134, 0.0065,
                 0.0096, 0.0152, 0.0084, 0.0187, 0.0084, 0.0165, 0.0102, 0.0052, 0.0115, 0.0152, 0.0046, 0.0115, 0.0059, 0.0071,
                 0.0027, 0.0065, 0.0015, 0.0052, 0.0042, 0.0021, 0.0052, 0.0021, 0.005, 0.0015, 0.0034, 0.0084, 0.0052, 0.0059,
                 0.0034, 0.0092, 0.0034, 0.0046, 0.0034, 0.0052, 0.0025, 0.0052, 0.01, 0.0015, 0.0034, 0.004, 0.003, 0.0062,
                 0.0034, 0.0046, 0.003, 0.0071, 0.0034, 0.0027, 0.0127, 0.0084, 0.01, 0.009, 0.014, 0.0142, 0.0152, 0.0202,
                 0.0102, 0.0096, 0.0102, 0.009, 0.0077, 0.0092, 0.0087, 0.01, 0.0092, 0.0034, 0.009, 0.0027, 0.004, 0.0059,
                 0.0084, 0.0159, 0.0087, 0.008, 0.0087, 0.0102, 0.0087, 0.01, 0.0087, 0.0097, 0.0097, 0.009, 0.01, 0.0084,
                 0.0102, 0.008, 0.0121, 0.0084, 0.0155, 0.0059, 0.0115, 0.0134, 0.0134, 0.0109, 0.0115, 0.0159, 0.0227, 0.0171,
                 0.0315, 0.0246, 0.0115, 0.029, 0.0222, 0.0277]


def to_dates(hours):
    return mdates.date2num(start_day) + np.asarray(hours, dtype=float) / 24


def flatten(hours, values):
    counts = [len(v) for v in values]
    return np.repeat(hours, counts), np.concatenate(values)


def draw_band(ax, hours, low, high):
    x = to_dates(hours)
    ax.fill_between(x, low, high, step='mid', color=blue, lw=3, joinstyle='round', zorder=2)
    ax.plot(x, low, '.', c=blue, ms=7.5, zorder=2)
    ax.plot(x, high, '.', c=blue, ms=7.5, zorder=2)


plt.rcParams['font.weight'] = 'bold'
plt.rcParams['axes.labelweight'] = 'bold'
plt.rcParams['axes.titleweight'] = 'bold'

fig = plt.figure(figsize=(14.71, 11.72), dpi=100)
ax1 = fig.add_axes([116/1471, 1 - 518/1172, 1345/1471, 480/1172])
ax2 = fig.add_axes([116/1471, 1 - 1053/1172, 1345/1471, 478/1172], sharex=ax1)

label = 'Butterworth Filtered Data\n(N=6, Tc=3.3333 min, Type: low)'

draw_band(ax1, band_hours_a, band_low_a, band_high_a)
draw_band(ax1, upper_hours_a, upper_low_a, upper_high_a)
for hours, values in [(spot_hours_a, spot_values_a), (cloud_hours_a, cloud_values_a), (edge_hours_a, edge_values_a),
                      (late_hours_a, late_values_a), (fill_hours_a, fill_values_a)]:
    x, y = flatten(hours, values)
    ax1.plot(to_dates(x), y, '.', c=blue, ms=7.5, zorder=2)
ax1.plot([], [], '.', c=blue, ms=7.5, label='Raw Data')
filt_hours_a = filt_early_hours_a + filt_mid_hours_a + filt_late_hours_a
filt_values_a = filt_early_values_a + filt_mid_values_a + filt_late_values_a
ax1.plot(to_dates(filt_hours_a), filt_values_a, c=orange, lw=2, zorder=3, label=label)

draw_band(ax2, band_hours_b, band_low_b, band_high_b)
x, y = flatten(spot_hours_b, spot_values_b)
ax2.plot(to_dates(x), y, '.', c=blue, ms=7.5, zorder=2)
ax2.plot([], [], '.', c=blue, ms=7.5, label='Raw Data')
ax2.plot(to_dates(filt_hours_b), filt_values_b, c=orange, lw=2, zorder=3, label=label)

for ax in (ax1, ax2):
    ax.axvspan(to_dates(0), to_dates(night_end), color='gray', alpha=0.19, lw=0, zorder=1)
    ax.grid(True, ls=':', c='gray', alpha=0.7, lw=1)
    ax.set_axisbelow(True)
    ax.tick_params(labelsize=16, length=5, width=1.2)
    for spine in ax.spines.values():
        spine.set_linewidth(1.3)
    legend = ax.legend(loc='upper right', fontsize=13.3, borderaxespad=0.5)
    legend.get_frame().set_alpha(0.8)
    legend.get_lines()[1].set_linewidth(1.6)

ax1.set_ylim(-3.19, 11.4)
ax2.set_ylim(-0.0071, 0.172)
ax1.set_xlim(to_dates(0), to_dates(23.99))
ax1.set_yticks([-2, 0, 2, 4, 6, 8, 10])
ax1.set_yticklabels(['\u22122', '0', '2', '4', '6', '8', '10'])
ax2.set_yticks(np.arange(0, 0.17, 0.02))
ax2.yaxis.set_major_formatter(plt.FormatStrFormatter('%.2f'))
ax1.set_ylabel('Doppler Shift [Hz]', fontsize=16)
ax2.set_ylabel('Peak Voltage [V]', fontsize=16, labelpad=2.5)
ax2.set_xlabel('UTC', fontsize=16, labelpad=4)

ax2.xaxis.set_major_locator(mdates.HourLocator(interval=3))
ax2.xaxis.set_major_formatter(mdates.DateFormatter('%m-%d %H'))
ax1.tick_params(labelbottom=False)
plt.setp(ax2.get_xticklabels(), rotation=30, ha='right')

ax1.set_title('10.0 MHz N0000009', fontsize=19.2, pad=6, x=0.4967)
ax1.set_title('(a)', loc='left', fontsize=19, pad=6)
ax2.set_title('(b)', loc='left', fontsize=19, pad=6)

fig.savefig('out.png', dpi=100)
